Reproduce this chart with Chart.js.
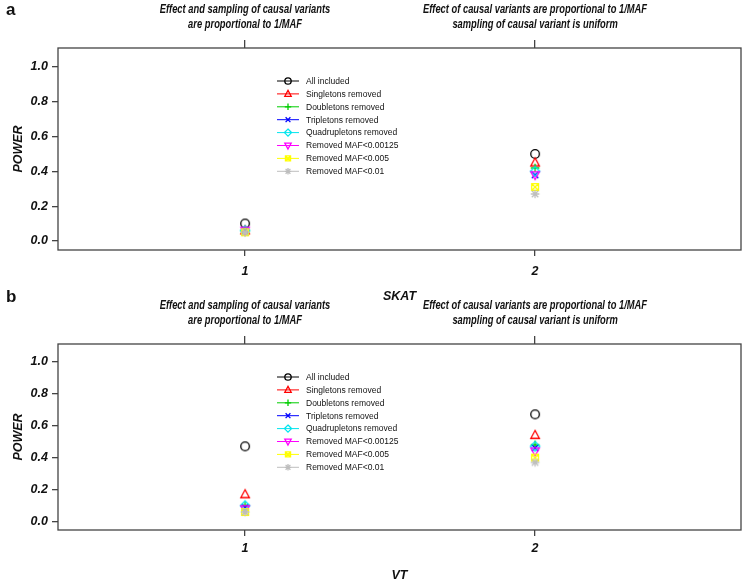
<!DOCTYPE html>
<html>
<head>
<meta charset="utf-8">
<script src="https://cdn.jsdelivr.net/npm/chart.js@4/dist/chart.umd.min.js"></script>
<style>
  body { margin: 0; background: #fff; }
  #wrap { position: relative; width: 750px; height: 585px; overflow: hidden; }
  .panel { position: absolute; left: 0; width: 750px; }
  .tag { position: absolute; left: 6px; font: bold 17px "Liberation Sans", Arial, sans-serif; color: #111; }
</style>
</head>
<body>
<div id="wrap">
  <div class="panel" style="top:0;height:306px"><canvas id="chartA" width="750" height="306"></canvas></div>
  <div class="panel" style="top:296px;height:289px"><canvas id="chartB" width="750" height="289"></canvas></div>
  <div class="tag" style="top:0">a</div>
  <div class="tag" style="top:287px">b</div>
</div>
<script>
// Series (legend entries), R palette + pch 1..8
const seriesNames = ['All included', 'Singletons removed', 'Doubletons removed', 'Tripletons removed',
  'Quadrupletons removed', 'Removed MAF<0.00125', 'Removed MAF<0.005', 'Removed MAF<0.01'];
const seriesColors = ['#000000', '#ff0000', '#00cd00', '#0000ff', '#00e5ee', '#ff00ff', '#ffff00', '#bebebe'];
const seriesPch = [1, 2, 3, 4, 5, 6, 7, 8];

// Scenario positions and top labels
const scenarioX = [1, 2];
const bottomTicks = ['1', '2'];
const topTicks = [
  ['Effect and sampling of causal variants', 'are proportional to 1/MAF'],
  ['Effect of causal variants are proportional to 1/MAF', 'sampling of causal variant is uniform']
];
const yTicks = [0, 0.2, 0.4, 0.6, 0.8, 1.0];

// Power values, one per series, for scenario 1 and 2
const skatScenario1 = [0.10, 0.06, 0.06, 0.06, 0.06, 0.06, 0.05, 0.05];
const skatScenario2 = [0.50, 0.45, 0.42, 0.38, 0.40, 0.38, 0.31, 0.27];
const vtScenario1 = [0.47, 0.17, 0.10, 0.09, 0.10, 0.08, 0.06, 0.06];
const vtScenario2 = [0.67, 0.54, 0.48, 0.46, 0.47, 0.44, 0.40, 0.37];

const FONT = '"Liberation Sans", Arial, sans-serif';
const AXIS_COLOR = '#444';

// draw R-style symbol
function drawPch(ctx, pch, color, x, y, r) {
  ctx.save();
  ctx.strokeStyle = color;
  ctx.lineWidth = 1.3;
  ctx.beginPath();
  if (pch === 1) {
    ctx.arc(x, y, r, 0, Math.PI * 2);
  } else if (pch === 2) {
    ctx.moveTo(x, y - r * 1.1); ctx.lineTo(x + r, y + r * 0.75); ctx.lineTo(x - r, y + r * 0.75); ctx.closePath();
  } else if (pch === 3) {
    ctx.moveTo(x - r, y); ctx.lineTo(x + r, y); ctx.moveTo(x, y - r); ctx.lineTo(x, y + r);
  } else if (pch === 4) {
    const d = r * 0.75;
    ctx.moveTo(x - d, y - d); ctx.lineTo(x + d, y + d); ctx.moveTo(x + d, y - d); ctx.lineTo(x - d, y + d);
  } else if (pch === 5) {
    ctx.moveTo(x, y - r * 1.1); ctx.lineTo(x + r * 1.1, y); ctx.lineTo(x, y + r * 1.1); ctx.lineTo(x - r * 1.1, y); ctx.closePath();
  } else if (pch === 6) {
    ctx.moveTo(x, y + r * 1.1); ctx.lineTo(x + r, y - r * 0.75); ctx.lineTo(x - r, y - r * 0.75); ctx.closePath();
  } else if (pch === 7) {
    const d = r * 0.8;
    ctx.rect(x - d, y - d, 2 * d, 2 * d);
    ctx.moveTo(x - d, y - d); ctx.lineTo(x + d, y + d); ctx.moveTo(x + d, y - d); ctx.lineTo(x - d, y + d);
  } else if (pch === 8) {
    const d = r * 0.75;
    ctx.moveTo(x - r, y); ctx.lineTo(x + r, y); ctx.moveTo(x, y - r); ctx.lineTo(x, y + r);
    ctx.moveTo(x - d, y - d); ctx.lineTo(x + d, y + d); ctx.moveTo(x + d, y - d); ctx.lineTo(x - d, y + d);
  }
  ctx.stroke();
  ctx.restore();
}

function markerCanvas(pch, color) {
  const c = document.createElement('canvas');
  c.width = 14; c.height = 14;
  drawPch(c.getContext('2d'), pch, color, 7, 7, 4.3);
  return c;
}
const markers = seriesPch.map((p, i) => markerCanvas(p, seriesColors[i]));

// frame, condensed top titles and in-plot legend
const framePlugin = {
  id: 'frame',
  afterDraw(chart) {
    const { ctx, chartArea: a } = chart;
    ctx.save();
    ctx.strokeStyle = AXIS_COLOR;
    ctx.lineWidth = 1.3;
    ctx.strokeRect(a.left, a.top, a.right - a.left, a.bottom - a.top);

    // top titles (narrow bold italic, like R's Helvetica Narrow)
    const top = chart.scales.x2;
    const sx = 0.72;
    ctx.fillStyle = '#111';
    ctx.font = 'italic bold 13px ' + FONT;
    ctx.textAlign = 'center';
    ctx.textBaseline = 'middle';
    scenarioX.forEach((v, i) => {
      const px = top.getPixelForValue(v);
      topTicks[i].forEach((line, j) => {
        ctx.save();
        ctx.translate(px, 9 + j * 15);
        ctx.scale(sx, 1);
        ctx.fillText(line, 0, 0);
        ctx.restore();
      });
    });

    // legend
    const lx = 277, ly = 81, rowH = 12.9;
    ctx.font = '8.5px ' + FONT;
    ctx.textAlign = 'left';
    seriesNames.forEach((name, i) => {
      const y = ly + i * rowH;
      ctx.strokeStyle = seriesColors[i];
      ctx.lineWidth = 1;
      ctx.beginPath(); ctx.moveTo(lx, y); ctx.lineTo(lx + 22, y); ctx.stroke();
      drawPch(ctx, seriesPch[i], seriesColors[i], lx + 11, y, 3.2);
      ctx.fillText(name, lx + 29, y + 0.5);
    });
    ctx.restore();
  }
};

function makeChart(id, vals1, vals2, xTitle, axisH, tickPad, titlePad) {
  const datasets = seriesNames.map((name, i) => ({
    label: name,
    data: [{ x: scenarioX[0], y: vals1[i] }, { x: scenarioX[1], y: vals2[i] }],
    showLine: false,
    pointStyle: markers[i],
    pointRadius: 5,
    borderColor: seriesColors[i],
    backgroundColor: seriesColors[i],
    order: -i
  }));

  const tickFont = { family: FONT, size: 12.5, style: 'italic', weight: 'bold' };
  return new Chart(document.getElementById(id), {
    type: 'scatter',
    data: { datasets },
    options: {
      responsive: false,
      animation: false,
      layout: { padding: { right: 9, left: 0, top: 0, bottom: 0 } },
      plugins: { legend: { display: false }, tooltip: { enabled: false } },
      scales: {
        x: {
          type: 'linear', position: 'bottom', min: 0.355, max: 2.71,
          afterBuildTicks: s => { s.ticks = scenarioX.map(v => ({ value: v })); },
          afterFit: s => { s.height = axisH; },
          ticks: { callback: (v, i) => bottomTicks[i], color: '#111', font: tickFont, padding: tickPad, maxRotation: 0 },
          grid: { drawOnChartArea: false, tickLength: 6, color: AXIS_COLOR, lineWidth: 1.3 },
          border: { display: false },
          title: { display: true, text: xTitle, color: '#111', font: tickFont, padding: { top: 4, bottom: titlePad } }
        },
        x2: {
          type: 'linear', position: 'top', min: 0.355, max: 2.71,
          afterBuildTicks: s => { s.ticks = scenarioX.map(v => ({ value: v })); },
          afterFit: s => { s.height = 48; },
          ticks: { display: false },
          grid: { drawOnChartArea: false, tickLength: 8, color: AXIS_COLOR, lineWidth: 1.3 },
          border: { display: false }
        },
        y: {
          min: -0.052, max: 1.109,
          afterBuildTicks: s => { s.ticks = yTicks.map(v => ({ value: v })); },
          afterFit: s => { s.width = 58; },
          ticks: { callback: v => v.toFixed(1), color: '#111', font: tickFont, padding: 4 },
          grid: { drawOnChartArea: false, tickLength: 6, color: AXIS_COLOR, lineWidth: 1.3 },
          border: { display: false },
          title: { display: true, text: 'POWER', color: '#111', font: tickFont, padding: { top: 11, bottom: 0 } }
        }
      }
    },
    plugins: [framePlugin]
  });
}

makeChart('chartA', skatScenario1, skatScenario2, 'SKAT', 56, 8, 2);
makeChart('chartB', vtScenario1, vtScenario2, 'VT', 55, 5, 2);
</script>
</body>
</html>
